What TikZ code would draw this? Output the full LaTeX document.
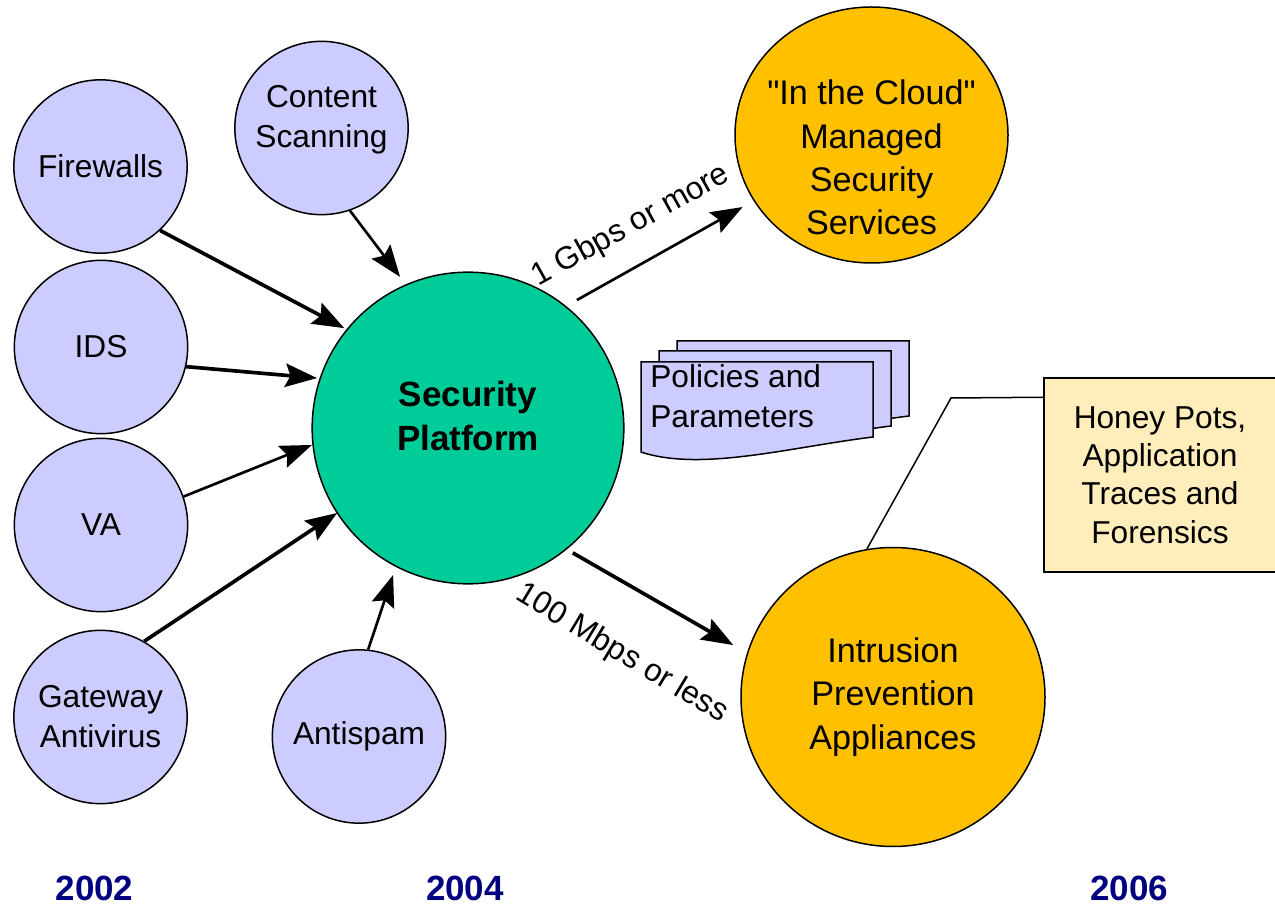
\documentclass[tikz,border=0pt]{standalone}
\usepackage{fontspec}
\setmainfont{Liberation Sans}
% same face without TeX ligature mapping, so " stays a straight quote
\newfontfamily\straightq{Liberation Sans}
\usetikzlibrary{arrows.meta,shapes.geometric}

\definecolor{techfill}{RGB}{204,204,255}
\definecolor{hubfill}{RGB}{0,204,153}
\definecolor{goldfill}{RGB}{255,192,0}
\definecolor{notefill}{RGB}{255,238,188}
\definecolor{yearblue}{RGB}{0,0,128}

\tikzset{
  docpage/.pic={
    \path[draw=black, line width=0.9pt, fill=techfill]
      (0,0) -- (232,0) -- (232,75)
      .. controls (150,85) and (60,110) .. (0,90) -- cycle;
  }
}

\begin{document}
\begin{tikzpicture}[x=0.6pt,y=-0.6pt,
  base/.style={font=\fontsize{19}{24}\selectfont, align=center, inner sep=0pt},
  tech/.style={base, circle, draw=black, line width=0.9pt, fill=techfill, minimum size=104pt},
  hub/.style={circle, draw=black, line width=0.9pt, fill=hubfill, minimum size=187pt, inner sep=0pt},
  outcome/.style={ellipse, draw=black, line width=0.9pt, fill=goldfill, inner sep=0pt},
  bigtext/.style={base, font=\fontsize{20.5}{26}\selectfont},
  hubtext/.style={align=center, inner sep=0pt, font=\bfseries\fontsize{21}{26}\selectfont},
  notetext/.style={base, font=\fontsize{19}{23}\selectfont},
  year/.style={inner sep=0pt, text=yearblue, font=\bfseries\fontsize{21}{24}\selectfont},
  conn/.style={-{Stealth[length=19pt,width=14pt,inset=3pt]}, line width=1.6pt},
  heavy/.style={conn, line width=2.2pt},
  leader/.style={line width=0.9pt}
]
\useasboundingbox (0,0) rectangle (1275,906);

% technologies feeding the platform
\node[tech] (fw) at (100.5,166.5) {Firewalls};
\node[tech, label={[base, yshift=5.1pt]center:Content\\Scanning}] (cs) at (321.5,128) {};
\node[tech] (ids) at (101,347) {IDS};
\node[tech] (va) at (101,525) {VA};
\node[tech] (gw) at (100.5,717) {Gateway\\Antivirus};
\node[tech] (as) at (359,736.5) {Antispam};

% central platform
\node[hub, label={[hubtext, yshift=7.2pt]center:Security\\Platform}] (sp) at (468,428) {};

% outcomes
\node[outcome, minimum width=163.8pt, minimum height=153.6pt,
      label={[bigtext, yshift=-13.5pt]center:{\straightq"}In the Cloud{\straightq"}\\Managed\\Security\\Services}] (cloud) at (871.5,135) {};
\node[outcome, bigtext, minimum width=182.4pt, minimum height=179.4pt] (ipa) at (893,697)
      {Intrusion\\Prevention\\Appliances};

% policies document stack
\pic at (677,341) {docpage};
\pic at (659,351) {docpage};
\pic at (641,362) {docpage};
\node[base, anchor=west, align=left] (pol) at (650,396) {Policies and\\Parameters};

% note with leader line
\node[rectangle, draw=black, line width=0.9pt, fill=notefill, inner sep=0pt,
      minimum width=147.6pt, minimum height=116.4pt,
      label={[notetext, xshift=-4.2pt]center:Honey Pots,\\Application\\Traces and\\Forensics}] (hp) at (1167,475) {};
\coordinate (elbow) at (951,398);
\draw[leader] (ipa.100) -- (elbow) -- ([yshift=-12pt]hp.north west);

% connectors into the platform
\draw[heavy] (fw.-47) -- ([shift={(141.1:95.4pt)}]sp.center);
\draw[conn] (cs.-71) -- ([shift={(114.2:99.4pt)}]sp.center);
\draw[heavy] (ids.-13) -- ([shift={(161.7:95.4pt)}]sp.center);
\draw[conn] (va.19.5) -- ([shift={(-173.8:94.2pt)}]sp.center);
\draw[heavy] (gw.60.8) -- ([shift={(-147:93.6pt)}]sp.center);
\draw[conn] (as.84) -- ([shift={(-117:99pt)}]sp.center);

% connectors out of the platform
\draw[conn] ([shift={(49.6:100.8pt)}]sp.center) -- ([shift={(209.2:88.6pt)}]cloud.center);
\draw[heavy] ([shift={(-50:97.8pt)}]sp.center) -- ([shift={(162:100.8pt)}]ipa.center);

% bandwidth labels
\node[base, rotate=29] (gbps) at (631,226) {1 Gbps or more};
\node[base, rotate=-31] (mbps) at (622,654) {100 Mbps or less};

% timeline
\node[year] (y02) at (94.5,888) {2002};
\node[year] (y04) at (465,888) {2004};
\node[year] (y06) at (1129,888) {2006};
\end{tikzpicture}
\end{document}
